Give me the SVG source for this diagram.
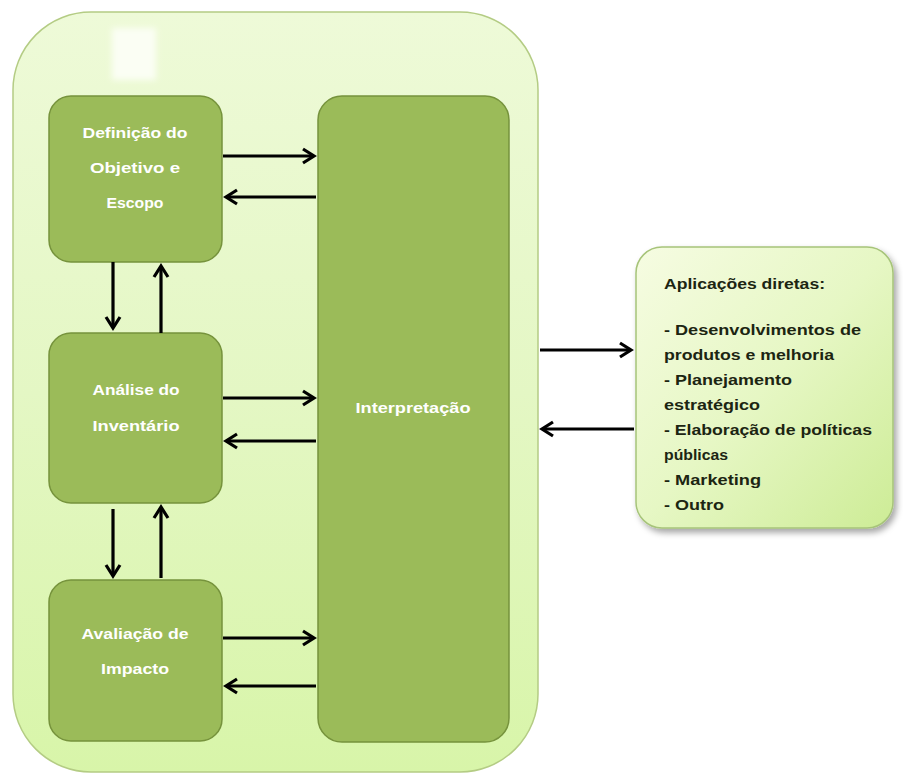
<svg xmlns="http://www.w3.org/2000/svg" width="903" height="775" viewBox="0 0 903 775">
  <defs>
    <linearGradient id="gOuter" x1="0" y1="0" x2="0" y2="1">
      <stop offset="0" stop-color="#eefad8"/>
      <stop offset="0.5" stop-color="#e4f7c4"/>
      <stop offset="1" stop-color="#d8f5a9"/>
    </linearGradient>
    <linearGradient id="gRight" x1="0" y1="0" x2="1" y2="1">
      <stop offset="0" stop-color="#f6fce2"/>
      <stop offset="0.5" stop-color="#e6f7c4"/>
      <stop offset="1" stop-color="#cdec96"/>
    </linearGradient>
    <filter id="shadow" x="-10%" y="-10%" width="130%" height="130%">
      <feDropShadow dx="3" dy="4" stdDeviation="3" flood-color="#000" flood-opacity="0.35"/>
    </filter>
    <filter id="soft" x="-30%" y="-30%" width="160%" height="160%">
      <feGaussianBlur stdDeviation="3"/>
    </filter>
    <marker id="arr" viewBox="-3 -3 17 20" refX="11" refY="7" markerWidth="17" markerHeight="20" markerUnits="userSpaceOnUse" orient="auto">
      <path d="M0,0 L11,7 L0,14" fill="none" stroke="#000" stroke-width="3.2" stroke-linejoin="miter"/>
    </marker>
  </defs>
  <style>
    .box { fill: #9bbb59; stroke: #76933c; stroke-width: 1.5; }
    .wt { font-family: "Liberation Sans", Arial, sans-serif; font-size: 14px; font-weight: bold; fill: #ffffff; text-anchor: middle; }
    .dt { font-family: "Liberation Sans", Arial, sans-serif; font-size: 14px; font-weight: bold; fill: #1c2512; }
    .conn line { stroke: #000; stroke-width: 3.2; marker-end: url(#arr); }
  </style>

  <rect width="903" height="775" fill="#ffffff"/>

  <g id="container">
    <rect x="13" y="12" width="525" height="760" rx="78" ry="78" fill="url(#gOuter)" stroke="#b4cc84" stroke-width="1.5"/>
    <rect x="112" y="28" width="44" height="52" fill="#fbfef4" filter="url(#soft)"/>
  </g>

  <g id="definicao">
    <rect class="box" x="49" y="96" width="173" height="166" rx="22" ry="22"/>
    <text class="wt" x="135" y="138" textLength="105" lengthAdjust="spacingAndGlyphs">Definição do</text>
    <text class="wt" x="135" y="173" textLength="90" lengthAdjust="spacingAndGlyphs">Objetivo e</text>
    <text class="wt" x="135" y="208" textLength="57" lengthAdjust="spacingAndGlyphs">Escopo</text>
  </g>

  <g id="analise">
    <rect class="box" x="49" y="333" width="173" height="170" rx="22" ry="22"/>
    <text class="wt" x="136" y="395" textLength="87" lengthAdjust="spacingAndGlyphs">Análise do</text>
    <text class="wt" x="136" y="431" textLength="87" lengthAdjust="spacingAndGlyphs">Inventário</text>
  </g>

  <g id="avaliacao">
    <rect class="box" x="49" y="580" width="173" height="161" rx="22" ry="22"/>
    <text class="wt" x="135" y="639" textLength="107" lengthAdjust="spacingAndGlyphs">Avaliação de</text>
    <text class="wt" x="135" y="674" textLength="68" lengthAdjust="spacingAndGlyphs">Impacto</text>
  </g>

  <g id="interpretacao">
    <rect class="box" x="318" y="96" width="191" height="646" rx="24" ry="24"/>
    <text class="wt" x="413" y="413" textLength="115" lengthAdjust="spacingAndGlyphs">Interpretação</text>
  </g>

  <g id="aplicacoes">
    <rect x="636" y="247" width="257" height="281" rx="26" ry="26" fill="url(#gRight)" stroke="#a7c47a" stroke-width="1.5" filter="url(#shadow)"/>
    <text class="dt" x="664" y="289" textLength="161" lengthAdjust="spacingAndGlyphs">Aplicações diretas:</text>
    <text class="dt" x="664" y="335" textLength="197" lengthAdjust="spacingAndGlyphs">- Desenvolvimentos de</text>
    <text class="dt" x="664" y="360" textLength="170" lengthAdjust="spacingAndGlyphs">produtos e melhoria</text>
    <text class="dt" x="664" y="385" textLength="128" lengthAdjust="spacingAndGlyphs">- Planejamento</text>
    <text class="dt" x="664" y="410" textLength="96" lengthAdjust="spacingAndGlyphs">estratégico</text>
    <text class="dt" x="664" y="435" textLength="208" lengthAdjust="spacingAndGlyphs">- Elaboração de políticas</text>
    <text class="dt" x="664" y="460" textLength="64" lengthAdjust="spacingAndGlyphs">públicas</text>
    <text class="dt" x="664" y="485" textLength="97" lengthAdjust="spacingAndGlyphs">- Marketing</text>
    <text class="dt" x="664" y="510" textLength="60" lengthAdjust="spacingAndGlyphs">- Outro</text>
  </g>

  <g id="connectors" class="conn">
    <line x1="223" y1="156" x2="314" y2="156"/>
    <line x1="316" y1="197" x2="226" y2="197"/>
    <line x1="113" y1="262" x2="113" y2="328"/>
    <line x1="161" y1="333" x2="161" y2="266"/>
    <line x1="223" y1="398" x2="314" y2="398"/>
    <line x1="316" y1="441" x2="226" y2="441"/>
    <line x1="113" y1="509" x2="113" y2="576"/>
    <line x1="161" y1="578" x2="161" y2="507"/>
    <line x1="223" y1="638" x2="314" y2="638"/>
    <line x1="316" y1="686" x2="226" y2="686"/>
    <line x1="540" y1="350" x2="631" y2="350"/>
    <line x1="634" y1="429" x2="542" y2="429"/>
  </g>
</svg>
